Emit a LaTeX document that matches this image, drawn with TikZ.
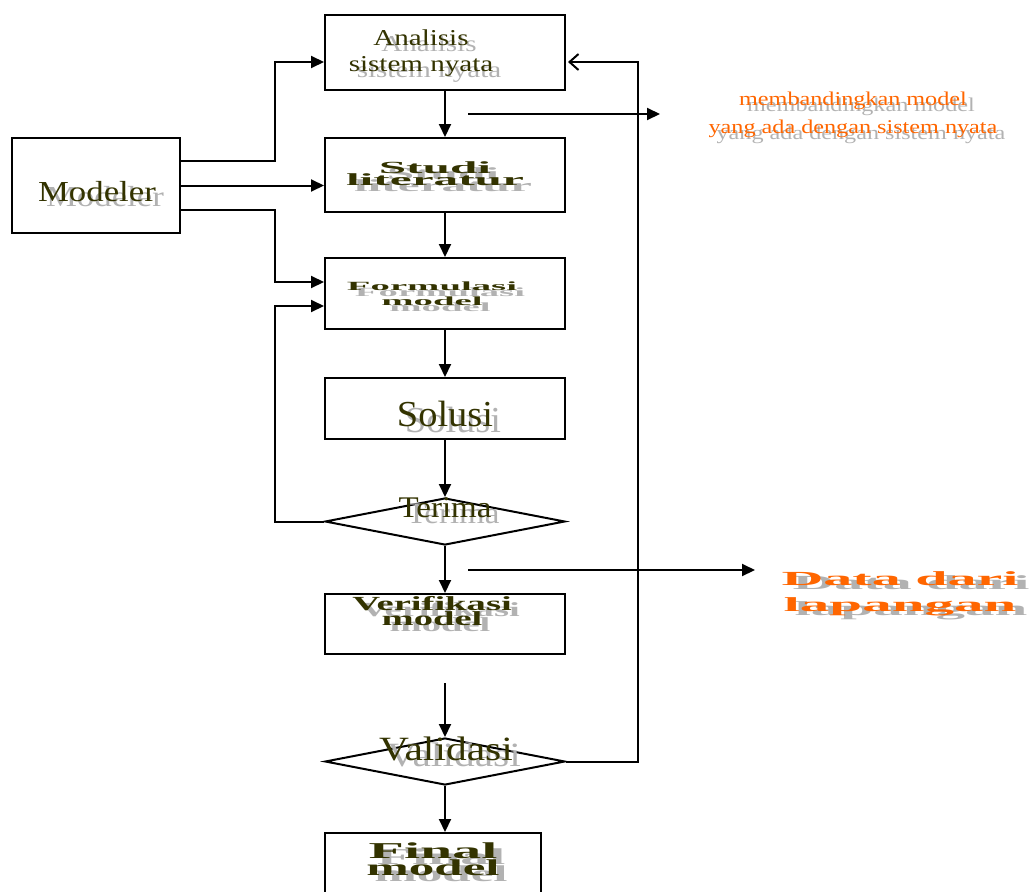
\documentclass[tikz,border=0pt]{standalone}
\usepackage{fontspec}
\setmainfont{Liberation Serif}
\usetikzlibrary{arrows.meta,calc,shapes.geometric}
\definecolor{ink}{RGB}{51,51,0}
\definecolor{shade}{RGB}{178,178,178}
\definecolor{orng}{RGB}{255,102,0}
\newcommand{\sx}[2]{\scalebox{#1}[1]{#2}}
\newcommand{\fz}[2]{\fontsize{#1}{#2}\selectfont\lineskiplimit=-100pt\relax}
% shadow offset, name, position (last baseline), options, colour, text
\newcommand{\stxt}[6][8,6]{%
  \node[txt,text=shade,#4] (#2-sh) at ($#3+(#1)$) {#6};
  \node[txt,text=#5,#4] (#2) at #3 {#6};}
\tikzset{
  txt/.style={inner sep=0pt, anchor=base, align=center},
  box/.style={draw, line width=2pt, inner sep=0pt},
  dia/.style={draw, diamond, line width=2pt, inner sep=0pt},
  arr/.style={line width=2pt, -{Triangle[length=13pt,width=12pt]}},
  oarr/.style={line width=2pt, -{Straight Barb[length=9pt,width=16pt,line width=2pt]}, shorten >=2pt},
}
\begin{document}
\begin{tikzpicture}[x=1pt,y=-1pt]
\useasboundingbox (0,0) rectangle (1030,891);
\fill[white] (0,0) rectangle (1030,891);
\clip (0,0) rectangle (1030,891);

% boxes
\node[box, minimum width=240pt, minimum height=75pt] (A) at (445,52.5) {};
\node[box, minimum width=240pt, minimum height=74pt] (S) at (445,175) {};
\node[box, minimum width=240pt, minimum height=71pt] (F) at (445,293.5) {};
\node[box, minimum width=240pt, minimum height=61pt] (Sol) at (445,408.5) {};
\node[dia, minimum width=240pt, minimum height=47pt] (T) at (445,521.5) {};
\node[box, minimum width=240pt, minimum height=60pt] (V) at (445,624) {};
\node[dia, minimum width=240pt, minimum height=47pt] (Va) at (445,761.5) {};
\node[box, minimum width=216pt, minimum height=72pt] (Fin) at (433,869) {};
\node[box, minimum width=168pt, minimum height=95pt] (M) at (96,185.5) {};

% texts
\stxt{At}{(421,71.7)}{font={\fz{22.7}{26.7}}}{ink}{\sx{1.28}{Analisis}\\\sx{1.28}{sistem nyata}}
\stxt{St}{(435,185.5)}{font={\fz{17}{12.5}\bfseries}}{ink}{\sx{2.9}{Studi}\\\sx{2.9}{literatur}}
\stxt{Ft}{(432,305)}{font={\fz{12.5}{15}\bfseries}}{ink}{\sx{3.1}{Formulasi}\\\sx{3.1}{model}}
\stxt{Solt}{(445,426.7)}{font={\fz{36.6}{40}}}{ink}{\sx{1.05}{Solusi}}
\stxt[8,5]{Mt}{(97,201.7)}{font={\fz{29}{32}}}{ink}{\sx{1.2}{Modeler}}
\stxt{Tt}{(445,517)}{font={\fz{30}{34}}}{ink}{\sx{1.1}{Terima}}
\stxt{Vt}{(432,625)}{font={\fz{20}{14.5}\bfseries}}{ink}{\sx{1.93}{Verifikasi}\\\sx{1.93}{model}}
\stxt{Vat}{(446,760)}{font={\fz{34}{38}}}{ink}{\sx{1.22}{Validasi}}
\stxt{Fint}{(433,875)}{font={\fz{22.7}{17}\bfseries}}{ink}{\sx{2.55}{Final}\\\sx{2.25}{model}}
\stxt{Lt}{(853,133)}{font={\fz{19.5}{27.5}}}{orng}{\sx{1.24}{membandingkan model}\\\sx{1.24}{yang ada dengan sistem nyata}}
\stxt[11,4]{Dt}{(900,611.7)}{font={\fz{20}{26.7}\bfseries}}{orng}{\sx{2.9}{Data dari}\\\sx{2.95}{lapangan}}

% vertical flow
\draw[arr] (A.south) -- (S.north);
\draw[arr] (S.south) -- (F.north);
\draw[arr] (F.south) -- (Sol.north);
\draw[arr] (Sol.south) -- (T.north);
\draw[arr] (T.south) -- (V.north);
\coordinate (vOut) at ([yshift=-28pt]V.south);
\draw[arr] (vOut) -- (Va.north);
\draw[arr] (Va.south) -- (Va.south |- Fin.north);

% modeler connectors
\coordinate (aIn) at ([yshift=-9.5pt]A.west);
\coordinate (fIn1) at ([yshift=11.5pt]F.west);
\coordinate (fIn2) at ([yshift=-12.5pt]F.west);
\draw[arr] ([yshift=24.5pt]M.east) -| ([xshift=-49pt]aIn) -- (aIn);
\draw[arr] (M.east) -- (M.east -| S.west);
\draw[arr] ([yshift=-24.5pt]M.east) -| ([xshift=-49pt]fIn1) -- (fIn1);
\draw[arr] (T.west) -| ([xshift=-49pt]fIn2) -- (fIn2);

% validation feedback
\coordinate (aOut) at ([yshift=-9.5pt]A.east);
\draw[oarr] (Va.east) -| ([xshift=72pt]aOut) -- (aOut);

% side arrows
\coordinate (m1) at (468,114);
\coordinate (m2) at (660,114);
\draw[arr] (m1) -- (m2);
\coordinate (d1) at (468,570);
\coordinate (d2) at (755,570);
\draw[arr] (d1) -- (d2);
\end{tikzpicture}
\end{document}
